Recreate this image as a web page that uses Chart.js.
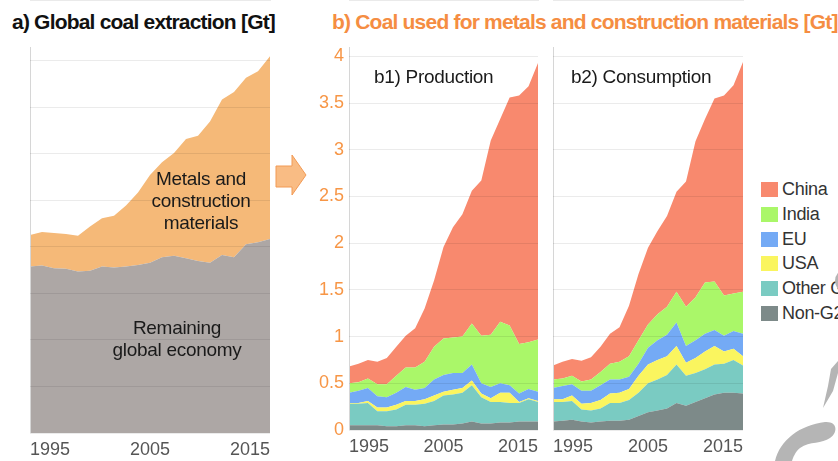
<!DOCTYPE html>
<html>
<head>
<meta charset="utf-8">
<script src="https://cdn.jsdelivr.net/npm/chart.js@4.4.1/dist/chart.umd.min.js"></script>
<style>
  body { margin: 0; width: 838px; height: 461px; overflow: hidden; background: #fff; position: relative; font-family: "Liberation Sans", Arial, sans-serif; }
  .box { position: absolute; top: 0; height: 461px; }
  .title { position: absolute; top: 9px; font-size: 21px; font-weight: bold; letter-spacing: -0.8px; line-height: 26px; white-space: nowrap; }
  .note { position: absolute; font-size: 19px; line-height: 22px; color: #1a1a1a; text-align: center; letter-spacing: -0.3px; white-space: nowrap; }
  .legend { position: absolute; left: 761px; top: 177px; }
  .legend div { height: 24.8px; line-height: 24px; font-size: 18px; color: #333; white-space: nowrap; letter-spacing: -0.3px; }
  .legend span { display: inline-block; width: 17px; height: 15px; vertical-align: -2px; margin-right: 4px; }
</style>
</head>
<body>
<div class="title" style="left:12px; color:#111;">a) Global coal extraction [Gt]</div>
<div class="title" style="left:332px; color:#F58D42;">b) Coal used for metals and construction materials [Gt]</div>

<div class="box" style="left:0; width:290px;"><canvas id="chartA" width="290" height="461"></canvas></div>
<div class="box" style="left:300px; width:245px;"><canvas id="chartB1" width="245" height="461"></canvas></div>
<div class="box" style="left:545px; width:205px;"><canvas id="chartB2" width="205" height="461"></canvas></div>

<div class="note" style="left:131px; top:168px; width:140px;">Metals and<br>construction<br>materials</div>
<div class="note" style="left:97px; top:317px; width:160px;">Remaining<br>global economy</div>
<div class="note" style="left:374px; top:66px; text-align:left;">b1) Production</div>
<div class="note" style="left:571px; top:66px; text-align:left;">b2) Consumption</div>

<div class="legend" id="legend"></div>

<svg style="position:absolute; left:0; top:0;" width="838" height="461">
  <path d="M276,166 L292,166 L292,155 L306,175 L292,195 L292,187 L276,187 Z" fill="#F9BC84" stroke="#F29A55" stroke-width="1"/>
  <circle cx="848" cy="281" r="13" fill="#B5B5B5"/>
  <path d="M823,408 L828,386 L831,369 L838,361 L838,373 L833,391 Z" fill="#B5B5B5"/>
  <path d="M775,461 C780,440 800,425 825,422 C838,421 838,433 830,438 C822,444 810,441 800,448 C795,452 793,458 792,461 Z" fill="#B5B5B5"/>
</svg>

<script>
const years = [1995, 1996, 1997, 1998, 1999, 2000, 2001, 2002, 2003, 2004, 2005,
  2006, 2007, 2008, 2009, 2010, 2011, 2012, 2013, 2014, 2015];
const yearTicks = [1995, 2005, 2015];
const gridTicksA = [0, 1, 2, 3, 4, 5, 6, 7, 8];
const gridTicksB = [0, 0.5, 1, 1.5, 2, 2.5, 3, 3.5, 4];

// a) global coal extraction, Gt
const remaining = [3.58, 3.60, 3.54, 3.53, 3.47, 3.49, 3.58, 3.56, 3.58, 3.61, 3.66,
  3.78, 3.81, 3.76, 3.70, 3.66, 3.83, 3.78, 4.06, 4.10, 4.17];
const metals = [0.68, 0.72, 0.76, 0.75, 0.77, 0.95, 1.04, 1.11, 1.31, 1.56, 1.89,
  2.04, 2.21, 2.56, 2.69, 3.04, 3.34, 3.55, 3.58, 3.68, 3.93];

// b1) production
const prodNonG20 = [0.05, 0.05, 0.05, 0.05, 0.04, 0.04, 0.05, 0.05, 0.04, 0.05, 0.06,
  0.06, 0.07, 0.09, 0.07, 0.07, 0.08, 0.08, 0.09, 0.09, 0.09];
const prodOtherG20 = [0.23, 0.23, 0.24, 0.15, 0.16, 0.18, 0.22, 0.22, 0.24, 0.26, 0.31,
  0.32, 0.33, 0.39, 0.28, 0.23, 0.22, 0.21, 0.20, 0.24, 0.21];
const prodUSA = [0.01, 0.01, 0.02, 0.04, 0.04, 0.05, 0.04, 0.04, 0.05, 0.06, 0.04,
  0.05, 0.05, 0.05, 0.04, 0.04, 0.10, 0.11, 0.01, 0.01, 0.01];
const prodEU = [0.11, 0.13, 0.14, 0.12, 0.11, 0.13, 0.15, 0.12, 0.12, 0.17, 0.18,
  0.18, 0.16, 0.17, 0.11, 0.12, 0.10, 0.08, 0.09, 0.10, 0.10];
const prodIndia = [0.10, 0.09, 0.10, 0.13, 0.14, 0.18, 0.21, 0.24, 0.28, 0.35, 0.39,
  0.38, 0.39, 0.44, 0.51, 0.56, 0.66, 0.64, 0.53, 0.50, 0.56];
const prodChina = [0.18, 0.20, 0.20, 0.24, 0.28, 0.31, 0.34, 0.42, 0.57, 0.71, 0.98,
  1.18, 1.31, 1.42, 1.66, 2.08, 2.17, 2.44, 2.66, 2.74, 2.96];

// b2) consumption
const consNonG20 = [0.09, 0.10, 0.11, 0.09, 0.08, 0.09, 0.10, 0.10, 0.11, 0.15, 0.19,
  0.21, 0.23, 0.29, 0.26, 0.30, 0.34, 0.38, 0.40, 0.40, 0.39];
const consOtherG20 = [0.21, 0.20, 0.20, 0.13, 0.13, 0.14, 0.19, 0.19, 0.21, 0.25, 0.31,
  0.33, 0.36, 0.41, 0.32, 0.31, 0.31, 0.32, 0.31, 0.35, 0.30];
const consUSA = [0.03, 0.03, 0.06, 0.06, 0.08, 0.09, 0.10, 0.11, 0.12, 0.18, 0.20,
  0.21, 0.20, 0.20, 0.14, 0.16, 0.19, 0.20, 0.13, 0.12, 0.10];
const consEU = [0.12, 0.14, 0.12, 0.14, 0.13, 0.16, 0.15, 0.14, 0.13, 0.13, 0.18,
  0.21, 0.23, 0.25, 0.18, 0.19, 0.19, 0.17, 0.17, 0.19, 0.24];
const consIndia = [0.09, 0.08, 0.09, 0.10, 0.12, 0.14, 0.17, 0.19, 0.22, 0.25, 0.25,
  0.28, 0.30, 0.33, 0.42, 0.46, 0.55, 0.52, 0.43, 0.40, 0.45];
const consChina = [0.15, 0.18, 0.18, 0.22, 0.24, 0.27, 0.32, 0.37, 0.54, 0.71, 0.82,
  0.89, 0.97, 1.07, 1.34, 1.67, 1.75, 1.96, 2.14, 2.23, 2.46];

const regionNames = ['Non-G20', 'Other G20', 'USA', 'EU', 'India', 'China'];
const regionColors = ['#7D8A89', '#7ACBC2', '#FAF55F', '#74AAF5', '#AAF769', '#F8896E'];

// legend (China on top)
const legendEl = document.getElementById('legend');
for (let i = regionNames.length - 1; i >= 0; i--) {
  const row = document.createElement('div');
  row.innerHTML = '<span style="background:' + regionColors[i] + '"></span>' + regionNames[i];
  legendEl.appendChild(row);
}

function areaSet(label, data, color, first) {
  return {
    label: label,
    data: data,
    backgroundColor: color,
    borderWidth: 0,
    pointRadius: 0,
    tension: 0,
    fill: first ? 'origin' : '-1'
  };
}

function xScale(bottomHeight) {
  return {
    type: 'linear',
    min: 1995,
    max: 2015,
    afterBuildTicks: axis => { axis.ticks = yearTicks.map(v => ({ value: v })); },
    afterFit: axis => { axis.height = bottomHeight; },
    // 세로 축선은 x축 첫 눈금의 grid로 그림 (y축 border가 캔버스 왼쪽 끝에 찍히는 문제)
    grid: {
      drawTicks: false,
      z: 1,
      color: c => (c.tick && c.tick.value === yearTicks[0]) ? '#d6d6d6' : 'rgba(0,0,0,0)'
    },
    border: { color: '#d6d6d6', width: 1 },
    ticks: {
      align: 'inner',
      maxRotation: 0,
      padding: 6,
      color: '#555',
      font: { family: '"Liberation Sans", Arial', size: 18 },
      callback: v => String(v)
    }
  };
}

function yScale(max, tickVals, showLabels) {
  return {
    stacked: true,
    min: 0,
    max: max,
    afterBuildTicks: axis => { axis.ticks = tickVals.map(v => ({ value: v })); },
    grid: { color: 'rgba(0,0,0,0.08)', drawTicks: false, z: 1 },
    border: { display: false },
    ticks: {
      display: showLabels,
      padding: 5,
      color: '#F79646',
      font: { family: '"Liberation Sans", Arial', size: 18 },
      callback: v => String(v)
    }
  };
}

function baseOptions(xs, ys, padLeft, padRight) {
  return {
    responsive: false,
    animation: false,
    devicePixelRatio: 1,
    layout: { padding: { top: 47, right: padRight, left: padLeft, bottom: 0 } },
    plugins: { legend: { display: false }, tooltip: { enabled: false } },
    scales: { x: xs, y: ys }
  };
}

// a) 전체 석탄 채굴량
new Chart(document.getElementById('chartA'), {
  type: 'line',
  data: {
    labels: years,
    datasets: [
      areaSet('Remaining global economy', remaining, '#ADA7A5', true),
      areaSet('Metals and construction materials', metals, '#F5B978', false)
    ]
  },
  options: baseOptions(xScale(28), yScale(8.3, gridTicksA, false), 30, 20)
});

function regionChart(id, sets, showLabels, padLeft) {
  return new Chart(document.getElementById(id), {
    type: 'line',
    data: {
      labels: years,
      datasets: sets.map((d, i) => areaSet(regionNames[i], d, regionColors[i], i === 0))
    },
    options: baseOptions(xScale(31), yScale(4.1, gridTicksB, showLabels), padLeft, 7)
  });
}

regionChart('chartB1', [prodNonG20, prodOtherG20, prodUSA, prodEU, prodIndia, prodChina], true, 14);
regionChart('chartB2', [consNonG20, consOtherG20, consUSA, consEU, consIndia, consChina], false, 8);
</script>
</body>
</html>
